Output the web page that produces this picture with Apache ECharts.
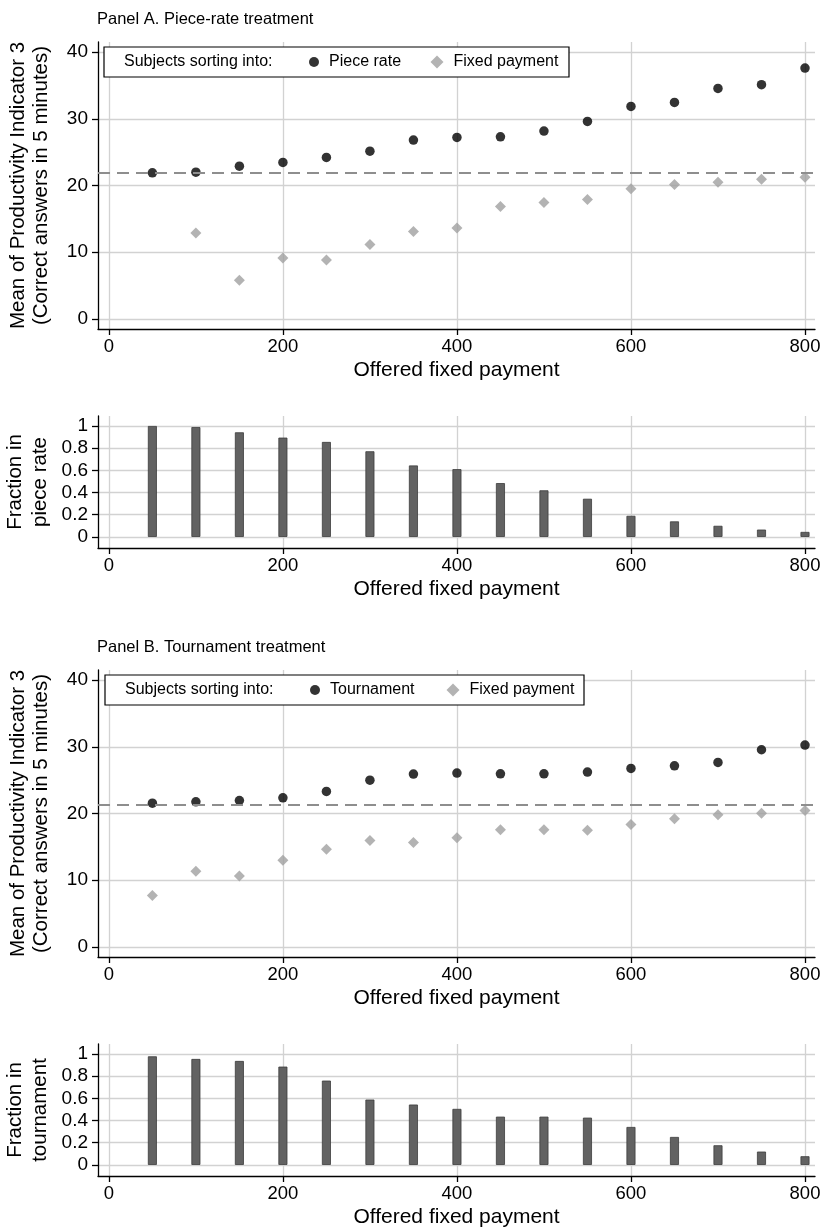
<!DOCTYPE html>
<html>
<head>
<meta charset="utf-8">
<script src="https://cdn.jsdelivr.net/npm/echarts@6/dist/echarts.min.js"></script>
<style>
html, body { margin: 0; padding: 0; background: #fff; }
#main { width: 823px; height: 1227px; }
</style>
</head>
<body>
<div id="main"></div>
<script>
// offered fixed payment levels
var offers = [50, 100, 150, 200, 250, 300, 350, 400, 450, 500, 550, 600, 650, 700, 750, 800];

// Panel A: piece-rate treatment
var pieceRateMean = [21.9, 22.0, 22.9, 23.45, 24.2, 25.15, 26.8, 27.2, 27.3, 28.15, 29.6, 31.85, 32.45, 34.55, 35.1, 37.6];
var fixedMeanA = [null, 12.9, 5.8, 9.15, 8.85, 11.15, 13.1, 13.65, 16.85, 17.45, 17.9, 19.5, 20.15, 20.5, 20.95, 21.25];
var fracPieceRate = [1.0, 0.99, 0.943, 0.895, 0.856, 0.772, 0.644, 0.611, 0.485, 0.42, 0.344, 0.19, 0.14, 0.10, 0.066, 0.045];
var baselineA = 21.9;

// Panel B: tournament treatment
var tournamentMean = [21.55, 21.75, 21.95, 22.35, 23.3, 25.0, 25.9, 26.05, 25.95, 25.95, 26.2, 26.75, 27.15, 27.65, 29.55, 30.25];
var fixedMeanB = [7.7, 11.35, 10.65, 13.0, 14.65, 15.95, 15.65, 16.35, 17.55, 17.55, 17.5, 18.35, 19.2, 19.8, 20.05, 20.45];
var fracTournament = [0.979, 0.955, 0.937, 0.886, 0.76, 0.589, 0.544, 0.505, 0.435, 0.435, 0.426, 0.342, 0.252, 0.177, 0.12, 0.078];
var baselineB = 21.25;

// tick labels
var xTicks = [0, 200, 400, 600, 800];
var yTicksMean = [0, 10, 20, 30, 40];
var yTicksFrac = [0, 0.2, 0.4, 0.6, 0.8, 1];

var font = "Liberation Sans";
var gridColor = "#d2d2d2";

function pairs(ys) {
  var out = [];
  ys.forEach(function (y, i) {
    if (y !== null) out.push([offers[i], y]);
  });
  return out;
}

function xAxisFor(gi) {
  return {
    type: "value", gridIndex: gi, min: -12.5, max: 811.5,
    axisLine: { show: true, onZero: false, lineStyle: { color: "#000", width: 1.3 } },
    axisTick: { show: true, length: 6, customValues: xTicks, lineStyle: { color: "#000", width: 1.3 } },
    axisLabel: { customValues: xTicks, margin: 8, color: "#000", fontSize: 18.5, fontFamily: font },
    splitLine: { show: true, lineStyle: { color: gridColor, width: 1.3 } },
    name: "Offered fixed payment", nameLocation: "middle", nameGap: 31, nameMoveOverlap: false,
    nameTextStyle: { color: "#000", fontSize: 21, fontFamily: font }
  };
}

function yAxisFor(gi, min, max, ticks, name, lh) {
  return {
    type: "value", gridIndex: gi, min: min, max: max,
    axisLine: { show: true, onZero: false, lineStyle: { color: "#000", width: 1.3 } },
    axisTick: { show: true, length: 6, customValues: ticks, lineStyle: { color: "#000", width: 1.3 } },
    axisLabel: { customValues: ticks, margin: 10, color: "#000", fontSize: 19, fontFamily: font },
    splitLine: { show: true, lineStyle: { color: gridColor, width: 1.3 } },
    name: name, nameLocation: "middle", nameGap: 45, nameMoveOverlap: false,
    nameTextStyle: { color: "#000", fontSize: 20.5, fontFamily: font, lineHeight: lh }
  };
}

function dashedLine(v) {
  return {
    silent: true, symbol: "none", label: { show: false },
    lineStyle: { type: [12, 7], color: "#8e8e8e", width: 1.8 },
    data: [{ yAxis: v }]
  };
}

// one legend per item so each marker keeps its own size
function legendItem(name, left, top, size) {
  return {
    data: [name], left: left, top: top, padding: 0, z: 10,
    itemWidth: size, itemHeight: size,
    textStyle: { fontSize: 16, color: "#000", fontFamily: font, padding: [0, 0, 0, 5] }
  };
}

var dotStyle = { color: "#000" };
var diamondStyle = { color: "#a0a0a0" };

var myChart = echarts.init(document.getElementById("main"));
myChart.setOption({
  animation: false,
  backgroundColor: "#fff",
  title: [
    { text: "Panel A. Piece-rate treatment", left: 97, top: 11, padding: 0,
      textStyle: { fontSize: 16.5, fontWeight: "normal", color: "#000", fontFamily: font } },
    { text: "Panel B. Tournament treatment", left: 97, top: 639, padding: 0,
      textStyle: { fontSize: 16.5, fontWeight: "normal", color: "#000", fontFamily: font } }
  ],
  grid: [
    { left: 98, top: 42, width: 717, height: 287, outerBoundsMode: "none" },
    { left: 98, top: 416, width: 717, height: 132, outerBoundsMode: "none" },
    { left: 98, top: 670, width: 717, height: 287, outerBoundsMode: "none" },
    { left: 98, top: 1044, width: 717, height: 132, outerBoundsMode: "none" }
  ],
  xAxis: [xAxisFor(0), xAxisFor(1), xAxisFor(2), xAxisFor(3)],
  yAxis: [
    yAxisFor(0, -1.5, 41.5, yTicksMean, "Mean of Productivity Indicator 3\n(Correct answers in 5 minutes)", 23),
    yAxisFor(1, -0.1, 1.09, yTicksFrac, "Fraction in\npiece rate", 25),
    yAxisFor(2, -1.5, 41.5, yTicksMean, "Mean of Productivity Indicator 3\n(Correct answers in 5 minutes)", 23),
    yAxisFor(3, -0.1, 1.09, yTicksFrac, "Fraction in\ntournament", 25)
  ],
  legend: [
    legendItem("Piece rate", 309, 54, 10),
    legendItem("Fixed payment", 430.5, 54, 13),
    legendItem("Tournament", 310, 682, 10),
    legendItem("Fixed payment", 446.5, 682, 13)
  ],
  graphic: [
    { type: "rect", z: 5, shape: { x: 104, y: 47, width: 465, height: 30 },
      style: { fill: "#fff", stroke: "#000", lineWidth: 1.2 } },
    { type: "text", z: 6, x: 124, y: 62,
      style: { text: "Subjects sorting into:", fontSize: 16, fontFamily: font, fill: "#000", verticalAlign: "middle" } },
    { type: "rect", z: 5, shape: { x: 105, y: 675, width: 479, height: 30 },
      style: { fill: "#fff", stroke: "#000", lineWidth: 1.2 } },
    { type: "text", z: 6, x: 125, y: 690,
      style: { text: "Subjects sorting into:", fontSize: 16, fontFamily: font, fill: "#000", verticalAlign: "middle" } }
  ],
  series: [
    { name: "Piece rate", type: "scatter", xAxisIndex: 0, yAxisIndex: 0,
      symbol: "circle", symbolSize: 9.5, itemStyle: dotStyle, data: pairs(pieceRateMean),
      markLine: dashedLine(baselineA) },
    { name: "Fixed payment", type: "scatter", xAxisIndex: 0, yAxisIndex: 0,
      symbol: "diamond", symbolSize: 11, itemStyle: diamondStyle, data: pairs(fixedMeanA) },
    { name: "Fraction in piece rate", type: "bar", xAxisIndex: 1, yAxisIndex: 1,
      barWidth: 9, itemStyle: { color: "#626262", borderColor: "#3c3c3c", borderWidth: 0.8 },
      data: pairs(fracPieceRate) },
    { name: "Tournament", type: "scatter", xAxisIndex: 2, yAxisIndex: 2,
      symbol: "circle", symbolSize: 9.5, itemStyle: dotStyle, data: pairs(tournamentMean),
      markLine: dashedLine(baselineB) },
    { name: "Fixed payment", type: "scatter", xAxisIndex: 2, yAxisIndex: 2,
      symbol: "diamond", symbolSize: 11, itemStyle: diamondStyle, data: pairs(fixedMeanB) },
    { name: "Fraction in tournament", type: "bar", xAxisIndex: 3, yAxisIndex: 3,
      barWidth: 9, itemStyle: { color: "#626262", borderColor: "#3c3c3c", borderWidth: 0.8 },
      data: pairs(fracTournament) }
  ]
});
</script>
</body>
</html>
